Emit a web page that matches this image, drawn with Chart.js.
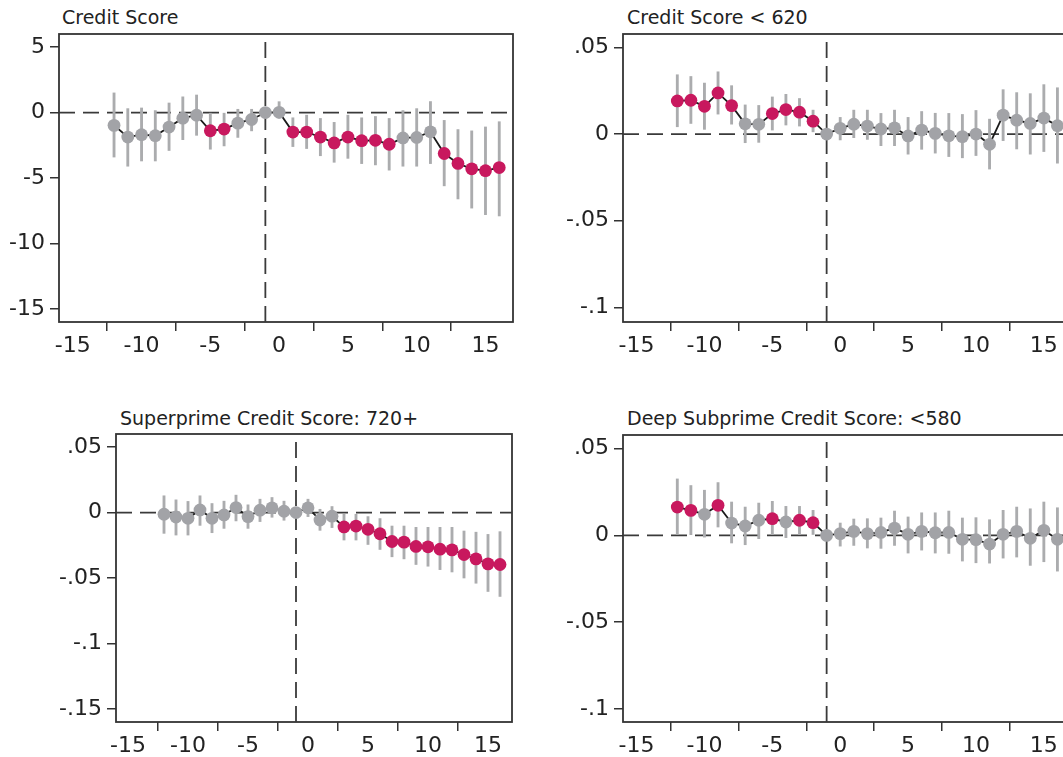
<!DOCTYPE html>
<html>
<head>
<meta charset="utf-8">
<title>Event study: credit score</title>
<script src="https://cdn.jsdelivr.net/npm/chart.js@4.4.0/dist/chart.umd.min.js"></script>
<style>
  html, body { margin: 0; padding: 0; background: #fff; overflow: hidden; }
  body { position: relative; width: 1063px; height: 757px; font-family: "DejaVu Sans", sans-serif; }
  canvas { position: absolute; display: block; }
  .titulo { position: absolute; font-size: 19px; line-height: 22px; color: #222; white-space: nowrap; }
</style>
</head>
<body>
<div class="titulo" style="left:62px;top:6px">Credit Score</div>
<div class="titulo" style="left:627px;top:6px">Credit Score &lt; 620</div>
<div class="titulo" style="left:120px;top:407px">Superprime Credit Score: 720+</div>
<div class="titulo" style="left:627px;top:407px">Deep Subprime Credit Score: &lt;580</div>

<canvas id="c1" width="530" height="380" style="left:0;top:0"></canvas>
<canvas id="c2" width="560" height="380" style="left:530px;top:0"></canvas>
<canvas id="c3" width="530" height="377" style="left:0;top:380px"></canvas>
<canvas id="c4" width="560" height="377" style="left:530px;top:380px"></canvas>

<script>
// Periodos relativos al evento (el periodo -1 es la referencia)
const periodos = [-12, -11, -10, -9, -8, -7, -6, -5, -4, -3, -2, -1, 0, 1, 2, 3, 4, 5, 6, 7, 8, 9, 10, 11, 12, 13, 14, 15, 16];
const periodoBase = -1;
const ticksX = [-15, -10, -5, 0, 5, 10, 15];

// Credit Score (todos)
const coefTodos = [-0.98, -1.87, -1.69, -1.77, -1.11, -0.43, -0.20, -1.39, -1.26, -0.81, -0.53, 0, 0.02, -1.49, -1.49, -1.87, -2.32, -1.87, -2.15, -2.12, -2.42, -1.94, -1.90, -1.47, -3.13, -3.89, -4.30, -4.44, -4.20];
const altoTodos = [1.50, 0.30, 0.35, 0.15, 0.73, 1.20, 1.34, -0.05, -0.05, 0.25, 0.25, null, 0.83, -0.40, -0.20, -0.45, -0.75, -0.20, -0.40, -0.30, -0.45, 0.15, 0.30, 0.84, -0.60, -1.30, -1.40, -1.10, -0.70];
const bajoTodos = [-3.40, -4.10, -3.70, -3.70, -2.90, -2.07, -1.74, -2.80, -2.55, -1.90, -1.40, null, -0.43, -2.60, -2.75, -3.30, -3.80, -3.50, -3.90, -4.00, -4.40, -4.10, -4.10, -3.90, -5.60, -6.60, -7.30, -7.80, -7.90];
const ticksYTodos = [5, 0, -5, -10, -15];
const etiquetasYTodos = ['5', '0', '-5', '-10', '-15'];

// Credit Score < 620
const coef620 = [0.0191, 0.0195, 0.0160, 0.0237, 0.0164, 0.0059, 0.0056, 0.0118, 0.0141, 0.0126, 0.0074, 0, 0.0033, 0.0057, 0.0046, 0.0029, 0.0036, -0.0011, 0.0023, 0.0004, -0.0010, -0.0015, 0.0000, -0.0059, 0.0109, 0.0080, 0.0061, 0.0092, 0.0048];
const alto620 = [0.0342, 0.0332, 0.0294, 0.0359, 0.0279, 0.0168, 0.0165, 0.0214, 0.0229, 0.0205, 0.0138, null, 0.0096, 0.0138, 0.0138, 0.0119, 0.0138, 0.0096, 0.0130, 0.0120, 0.0119, 0.0113, 0.0136, 0.0086, 0.0256, 0.0239, 0.0233, 0.0285, 0.0267];
const bajo620 = [0.0042, 0.0061, 0.0027, 0.0115, 0.0057, -0.0050, -0.0048, 0.0023, 0.0052, 0.0046, 0.0013, null, -0.0034, -0.0021, -0.0031, -0.0067, -0.0067, -0.0116, -0.0088, -0.0110, -0.0130, -0.0137, -0.0124, -0.0202, -0.0038, -0.0086, -0.0116, -0.0101, -0.0168];

// Superprime: 720+
const coef720 = [-0.0013, -0.0034, -0.0044, 0.0020, -0.0044, -0.0018, 0.0038, -0.0031, 0.0018, 0.0036, 0.0010, 0, 0.0036, -0.0057, -0.0028, -0.0110, -0.0103, -0.0128, -0.0162, -0.0221, -0.0226, -0.0259, -0.0262, -0.0280, -0.0285, -0.0321, -0.0354, -0.0392, -0.0397];
const alto720 = [0.0128, 0.0097, 0.0085, 0.0128, 0.0069, 0.0087, 0.0133, 0.0059, 0.0102, 0.0115, 0.0087, null, 0.0102, 0.0025, 0.0046, -0.0013, -0.0013, -0.0031, -0.0046, -0.0103, -0.0103, -0.0113, -0.0113, -0.0113, -0.0113, -0.0141, -0.0150, -0.0167, -0.0146];
const bajo720 = [-0.0159, -0.0172, -0.0172, -0.0098, -0.0154, -0.0121, -0.0064, -0.0121, -0.0069, -0.0036, -0.0059, null, -0.0031, -0.0136, -0.0115, -0.0210, -0.0210, -0.0244, -0.0282, -0.0338, -0.0354, -0.0397, -0.0410, -0.0436, -0.0454, -0.0500, -0.0540, -0.0603, -0.0641];
const ticksY720 = [0.05, 0, -0.05, -0.1, -0.15];
const etiquetasY720 = ['.05', '0', '-.05', '-.1', '-.15'];

// Deep subprime: <580
const coef580 = [0.0163, 0.0144, 0.0121, 0.0173, 0.0071, 0.0054, 0.0087, 0.0096, 0.0077, 0.0087, 0.0073, 0, 0.0010, 0.0023, 0.0010, 0.0017, 0.0042, 0.0006, 0.0023, 0.0015, 0.0017, -0.0023, -0.0025, -0.0050, 0.0006, 0.0023, -0.0017, 0.0029, -0.0023];
const alto580 = [0.0325, 0.0287, 0.0260, 0.0304, 0.0192, 0.0163, 0.0186, 0.0196, 0.0167, 0.0167, 0.0144, null, 0.0071, 0.0094, 0.0096, 0.0100, 0.0140, 0.0106, 0.0130, 0.0130, 0.0140, 0.0100, 0.0102, 0.0090, 0.0144, 0.0163, 0.0153, 0.0192, 0.0159];
const bajo580 = [0.0006, 0.0004, -0.0010, 0.0048, -0.0044, -0.0054, -0.0019, 0.0004, -0.0013, 0.0004, 0.0005, null, -0.0062, -0.0058, -0.0073, -0.0075, -0.0058, -0.0102, -0.0085, -0.0102, -0.0104, -0.0148, -0.0158, -0.0160, -0.0131, -0.0125, -0.0173, -0.0152, -0.0206];

const ticksYSub = [0.05, 0, -0.05, -0.1];
const etiquetasYSub = ['.05', '0', '-.05', '-.1'];

const ROJO = '#c8185e';
const GRIS = '#a2a3a7';
const GRIS_IC = '#abacae';
const LINEA = '#3a3a3a';
const fuente = { family: 'DejaVu Sans', size: 22 };

// Marco completo alrededor del area de graficos
const marco = {
    id: 'marco',
    beforeDatasetsDraw(chart) {
        const a = chart.chartArea;
        const ctx = chart.ctx;
        ctx.save();
        ctx.strokeStyle = '#333';
        ctx.lineWidth = 1.8;
        ctx.strokeRect(a.left, a.top, a.right - a.left, a.bottom - a.top);
        ctx.restore();
    }
};

function crearPanel(id, coef, bajo, alto, yMin, yMax, ticksY, etiquetasY, caja) {
    const puntos = periodos.map((p, i) => ({ x: p, y: coef[i] }));
    const intervalos = periodos
        .map((p, i) => ({ x: p, y: [bajo[i], alto[i]] }))
        .filter(d => d.y[0] !== null);
    // rojo si el intervalo no cruza el cero
    const colores = periodos.map((p, i) =>
        (bajo[i] !== null && (bajo[i] > 0 || alto[i] < 0)) ? ROJO : GRIS);
    const xMin = -16, xMax = 17;

    new Chart(document.getElementById(id), {
        type: 'line',
        data: {
            datasets: [
                {
                    data: [{ x: xMin, y: 0 }, { x: xMax, y: 0 }],
                    borderColor: LINEA, borderWidth: 1.8, borderDash: [16, 8],
                    pointRadius: 0, order: 5
                },
                {
                    data: [{ x: periodoBase, y: yMin }, { x: periodoBase, y: yMax }],
                    borderColor: LINEA, borderWidth: 1.8, borderDash: [16, 8],
                    pointRadius: 0, order: 4
                },
                {
                    type: 'bar',
                    data: intervalos,
                    backgroundColor: GRIS_IC,
                    barThickness: 2.2,
                    borderWidth: 0,
                    order: 3
                },
                {
                    data: puntos,
                    borderColor: '#1a1a1a',
                    borderWidth: 1.8,
                    tension: 0,
                    pointRadius: 6.4,
                    pointBorderWidth: 0,
                    pointBackgroundColor: colores,
                    order: 1
                }
            ]
        },
        options: {
            responsive: false,
            animation: false,
            events: [],
            layout: { padding: { left: 0, top: caja.arriba, right: caja.derecha, bottom: 0 } },
            plugins: { legend: { display: false }, tooltip: { enabled: false } },
            scales: {
                x: {
                    type: 'linear', min: xMin, max: xMax, offset: false,
                    border: { display: false },
                    grid: { drawOnChartArea: false, tickLength: 9, color: '#333', lineWidth: 1.5 },
                    ticks: { font: fuente, color: '#222', padding: 2, maxRotation: 0, autoSkip: false },
                    afterBuildTicks: s => { s.ticks = ticksX.map(v => ({ value: v })); },
                    afterFit: s => { s.height = caja.alturaX; }
                },
                y: {
                    type: 'linear', min: yMin, max: yMax,
                    border: { display: false },
                    grid: { drawOnChartArea: false, tickLength: 9, color: '#333', lineWidth: 1.5 },
                    ticks: {
                        font: fuente, color: '#222', padding: 5, autoSkip: false,
                        callback: v => etiquetasY[ticksY.indexOf(v)]
                    },
                    afterBuildTicks: s => { s.ticks = ticksY.map(v => ({ value: v })); },
                    afterFit: s => { s.width = caja.anchoY; }
                }
            }
        },
        plugins: [marco]
    });
}

window.onload = function () {
    crearPanel('c1', coefTodos, bajoTodos, altoTodos, -16, 6, ticksYTodos, etiquetasYTodos,
        { anchoY: 59, arriba: 34, derecha: 17, alturaX: 58 });
    crearPanel('c2', coef620, bajo620, alto620, -0.1084, 0.0577, ticksYSub, etiquetasYSub,
        { anchoY: 93, arriba: 34, derecha: 19, alturaX: 58 });
    crearPanel('c3', coef720, bajo720, alto720, -0.16, 0.06, ticksY720, etiquetasY720,
        { anchoY: 116, arriba: 54, derecha: 18, alturaX: 35 });
    crearPanel('c4', coef580, bajo580, alto580, -0.1075, 0.0578, ticksYSub, etiquetasYSub,
        { anchoY: 93, arriba: 55, derecha: 19, alturaX: 35 });
};
</script>
</body>
</html>
